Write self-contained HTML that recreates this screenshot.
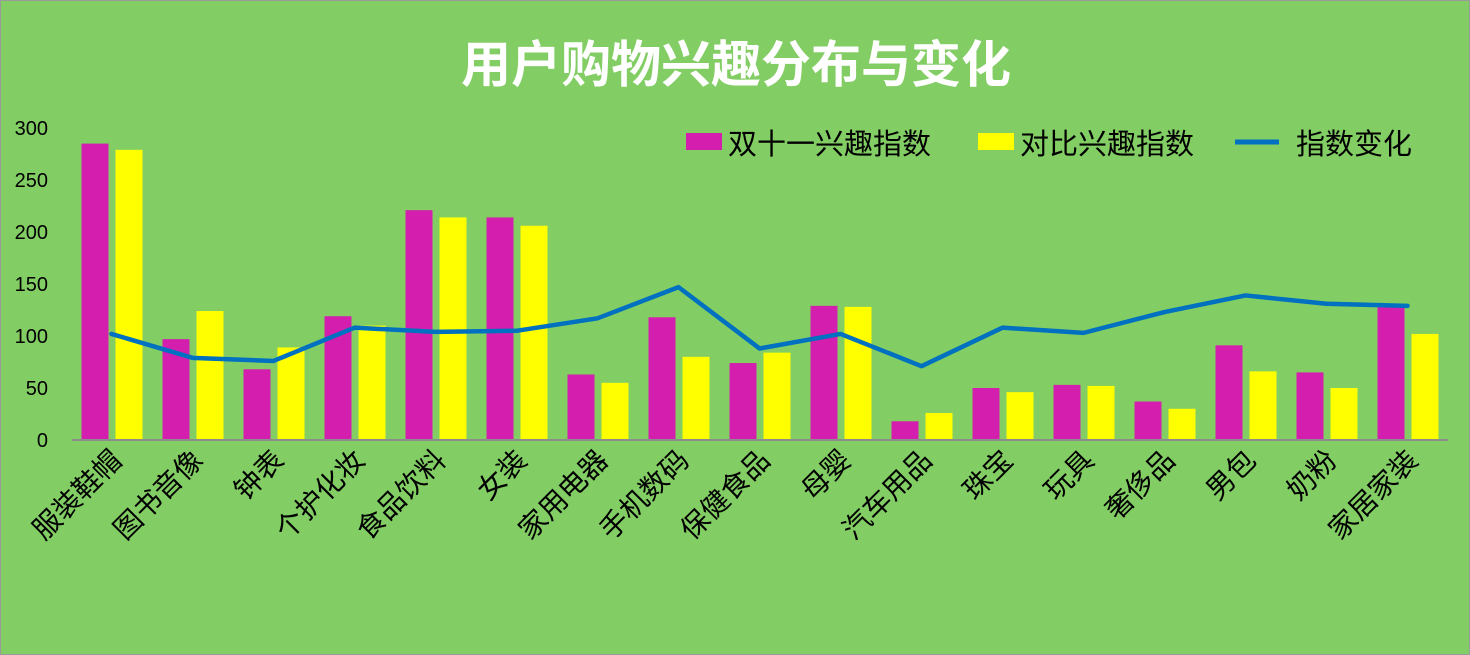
<!DOCTYPE html>
<html><head><meta charset="utf-8"><style>
html,body{margin:0;padding:0;background:#82CD64;}
svg{display:block;font-family:"Liberation Sans","Noto Sans CJK SC",sans-serif;}
</style></head><body>
<svg id="chart" width="1470" height="655">
<rect x="0.5" y="0.5" width="1469" height="654" fill="#82CD64" stroke="#9a9a9a"/>
<text x="736" y="82" text-anchor="middle" font-size="50" font-weight="bold" fill="#fff">用户购物兴趣分布与变化</text>
<g id="yaxis"></g><g id="bars"></g><g id="line"></g><g id="xlabels"></g>
<line x1="72" y1="440" x2="1448" y2="440" stroke="#8c8c8c" stroke-width="2"/>
<g>
<rect x="686" y="133" width="36" height="17" fill="#D41EAD"/>
<text x="728" y="154" font-size="29" fill="#000">双十一兴趣指数</text>
<rect x="978" y="133" width="36" height="17" fill="#FFFF00"/>
<text x="1020" y="154" font-size="29" fill="#000">对比兴趣指数</text>
<line x1="1235" y1="142" x2="1279" y2="142" stroke="#0070C0" stroke-width="5"/>
<text x="1296" y="154" font-size="29" fill="#000">指数变化</text>
</g>
</svg>
<script>
const categories=["服装鞋帽","图书音像","钟表","个护化妆","食品饮料","女装","家用电器","手机数码","保健食品","母婴","汽车用品","珠宝","玩具","奢侈品","男包","奶粉","家居家装"];
const double11=[285,97,68,119,221,214,63,118,74,129,18,50,53,37,91,65,129];
const compare=[279,124,89,110,214,206,55,80,84,128,26,46,52,30,66,50,102];
const change=[102,79,76,108,104,105,117,147,88,102,71,108,103,123,139,131,129];
const yTicks=[0,50,100,150,200,250,300];
const NS="http://www.w3.org/2000/svg";
const x0=71,step=81,yZero=440,k=1.04;
const xC=i=>x0+step*(i+0.5);
const y=v=>yZero-v*k;
function mk(t,a,p){const e=document.createElementNS(NS,t);for(const n in a)e.setAttribute(n,a[n]);p.appendChild(e);return e;}
const ya=document.getElementById('yaxis');
yTicks.forEach(v=>{const t=mk('text',{x:48,y:y(v)+7,'text-anchor':'end','font-size':20,fill:'#000'},ya);t.textContent=v;

});
const bg=document.getElementById('bars');
categories.forEach((c,i)=>{
const a=mk('rect',{x:xC(i)-30,y:y(double11[i]),width:27,height:double11[i]*k,fill:'#D41EAD'},bg);


const b=mk('rect',{x:xC(i)+4,y:y(compare[i]),width:27,height:compare[i]*k,fill:'#FFFF00'},bg);


});
const pl=mk('polyline',{points:change.map((v,i)=>xC(i)+','+y(v)).join(' '),fill:'none',stroke:'#0070C0','stroke-width':4.5,'stroke-linejoin':'round','stroke-linecap':'round'},document.getElementById('line'));


const xl=document.getElementById('xlabels');
categories.forEach((c,i)=>{const px=xC(i)+12,py=462;
const t=mk('text',{x:px,y:py,'text-anchor':'end','font-size':28,fill:'#000',transform:`rotate(-45 ${px} ${py})`},xl);t.textContent=c;

});
</script>
</body></html>
